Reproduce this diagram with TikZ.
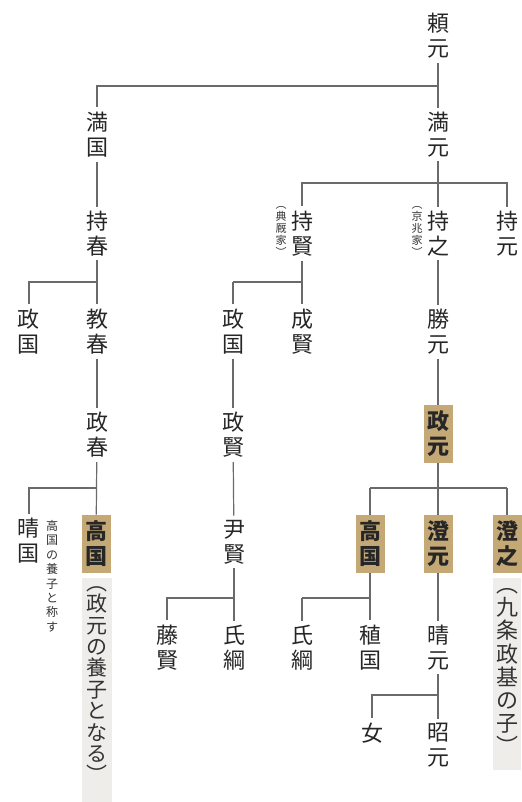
\documentclass[tikz,border=0pt]{standalone}
\usepackage{fontspec}
\newfontfamily\jpfont{Noto Sans CJK JP}
\definecolor{kingray}{HTML}{6A6A6A}
\definecolor{headtan}{HTML}{C4A876}
\definecolor{notebg}{HTML}{EFEDEA}
\tikzset{
  person/.style={font=\jpfont\fontsize{11pt}{12.5pt}\selectfont,align=center,inner xsep=0pt,inner ysep=2pt,text=black!85},
  head/.style={person,fill=headtan,font=\jpfont\bfseries\fontsize{11pt}{12.5pt}\selectfont,minimum width=14.5pt,minimum height=29pt,inner ysep=0pt},
  remark/.style={align=center,inner sep=0pt,anchor=north,text=black!80},
  kin/.style={draw=kingray,line width=0.6pt},
  adopted/.style={draw=kingray,line width=0.6pt,double,double distance=1.7pt},
  drop/.style={to path={-| (\tikztotarget)}}
}
\begin{document}
\begin{tikzpicture}[x=0.5pt,y=-0.5pt]
            \useasboundingbox (0,0) rectangle (521,802);
            \fill[notebg] (82,578) rectangle (112,802);
            \fill[notebg] (493,578) rectangle (521,770);
            % names
            \node[person](yorimoto)at(438, 36){頼\\元};
            \node[person](mitsukuni)at(97, 134.5){満\\国};
            \node[person](mitsumoto)at(438, 134.5){満\\元};
            \node[person](mochiharu)at(97, 233.5){持\\春};
            \node[person](mochikata)at(302, 233.5){持\\賢};
            \node[person](mochiyuki)at(438, 233.5){持\\之};
            \node[person](mochimoto)at(507, 233.5){持\\元};
            \node[remark,anchor=center,font=\jpfont\fontsize{5.5pt}{6pt}\selectfont](tenkyu)at(281, 231){︵\\典\\厩\\家\\︶};
            \node[remark,anchor=center,font=\jpfont\fontsize{5.5pt}{6pt}\selectfont](keicho)at(417, 231){︵\\京\\兆\\家\\︶};
            \node[person](masakuniA)at(29, 331.5){政\\国};
            \node[person](noriharu)at(97, 331.5){教\\春};
            \node[person](masakuniB)at(233, 331.5){政\\国};
            \node[person](shigekata)at(302, 331.5){成\\賢};
            \node[person](katsumoto)at(438, 331.5){勝\\元};
            \node[person](masaharu)at(97, 435){政\\春};
            \node[person](masakata)at(233, 435){政\\賢};
            \node[head](masamoto)at(438, 434){政\\元};
            \node[person](harukuni)at(29, 541){晴\\国};
            \node[remark,font=\jpfont\fontsize{6pt}{7.2pt}\selectfont](shosu)at(52, 520){高\\国\\の\\養\\子\\と\\称\\す};
            \node[head](takakuniA)at(96, 544){高\\国};
            \node[person](tadakata)at(234, 542){尹\\賢};
            \node[head](takakuniB)at(370, 544){高\\国};
            \node[head](sumimoto)at(438, 544){澄\\元};
            \node[head](sumiyuki)at(507, 544){澄\\之};
            \node[remark,font=\jpfont\fontsize{10.5pt}{10.7pt}\selectfont](yoshiA)at(97, 586){︵\\政\\元\\の\\養\\子\\と\\な\\る\\︶};
            \node[remark,font=\jpfont\fontsize{11pt}{11.6pt}\selectfont](kujo)at(507, 588){︵\\九\\条\\政\\基\\の\\子\\︶};
            \node[person](fujikata)at(167, 647.5){藤\\賢};
            \node[person](ujitsunaA)at(234, 647.5){氏\\綱};
            \node[person](ujitsunaB)at(302, 647.5){氏\\綱};
            \node[person](tanekuni)at(370, 647.5){稙\\国};
            \node[person](harumoto)at(438, 647.5){晴\\元};
            \node[person](onna)at(372, 733){女};
            \node[person](akimoto)at(438, 745.5){昭\\元};
            % junctions
            \coordinate (b1) at (438, 86);
            \coordinate (b2) at (438, 183);
            \coordinate (b3) at (97, 282);
            \coordinate (b4) at (302, 282);
            \coordinate (b5) at (97, 488);
            \coordinate (b6) at (438, 488);
            \coordinate (b7) at (234, 598);
            \coordinate (b8) at (370, 598);
            \coordinate (b9) at (438, 695);
            % lines
            \path[kin](yorimoto) edge (mitsumoto)
            (b1) edge [drop] (mitsukuni)
            (mitsukuni) edge (mochiharu)
            (mitsumoto) edge (mochiyuki)
            (b2) edge [drop] (mochikata)
            (b2) edge [drop] (mochimoto)
            (mochiharu) edge (noriharu)
            (b3) edge [drop] (masakuniA)
            (b4) edge (b4 -| masakuniB)
            (mochiyuki) edge (katsumoto)
            (katsumoto) edge (masamoto)
            (noriharu) edge (masaharu)
            (masaharu) edge (takakuniA)
            (b5) edge [drop] (harukuni)
            (masakata) edge (tadakata)
            (b6) edge (b6 -| takakuniB)
            (b6) edge (b6 -| sumiyuki)
            (tadakata) edge (ujitsunaA)
            (b7) edge [drop] (fujikata)
            (takakuniB) edge (tanekuni)
            (b8) edge (b8 -| ujitsunaB)
            (sumimoto) edge (harumoto)
            (harumoto) edge (akimoto)
            (b9) edge [drop] (onna);
            \path[adopted](mochikata) edge (shigekata)
            (b4 -| masakuniB) edge (masakuniB)
            (masakuniB) edge (masakata)
            (masamoto) edge (sumimoto)
            (b6 -| takakuniB) edge (takakuniB)
            (b6 -| sumiyuki) edge (sumiyuki)
            (b8 -| ujitsunaB) edge (ujitsunaB);
        \end{tikzpicture}
\end{document}
